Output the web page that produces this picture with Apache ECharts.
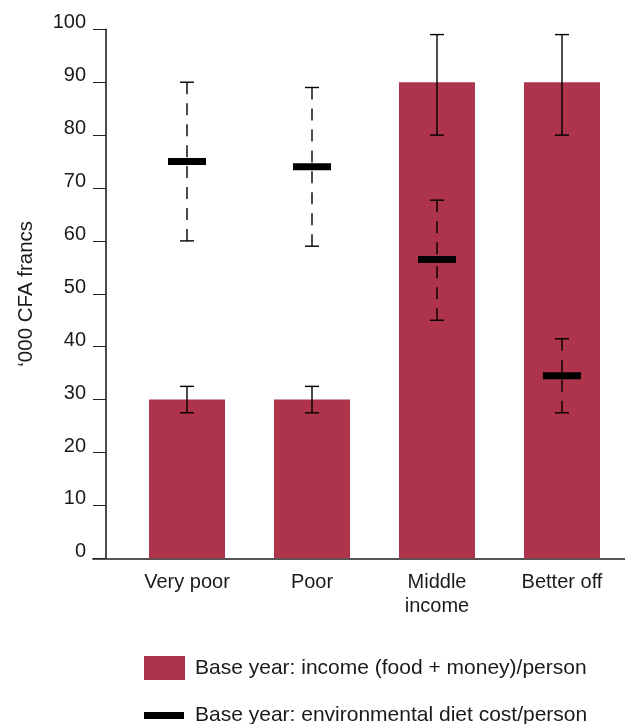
<!DOCTYPE html>
<html>
<head>
<meta charset="utf-8">
<script src="https://cdn.jsdelivr.net/npm/echarts@6/dist/echarts.min.js"></script>
<style>
  html, body { margin: 0; padding: 0; background: #ffffff; }
  #chart { width: 625px; height: 724px; }
</style>
</head>
<body>
<div id="chart"></div>
<script>
// Household groups along the x axis
const categories = ['Very poor', 'Poor', 'Middle\nincome', 'Better off'];

// Base-year income (food + money) per person, '000 CFA francs, with range
const incomeValues = [30, 30, 90, 90];
const incomeLow = [27.5, 27.5, 80, 80];
const incomeHigh = [32.5, 32.5, 99, 99];

// Base-year environmental diet cost per person, with range
const dietCost = [75, 74, 56.5, 34.5];
const dietLow = [60, 59, 45, 27.5];
const dietHigh = [90, 89, 67.7, 41.5];

// Y axis ticks
const yMin = 0, yMax = 100, yStep = 10;

const incomeName = 'Base year: income (food + money)/person';
const dietName = 'Base year: environmental diet cost/person';

const FONT = "'Liberation Sans', Arial, Helvetica, sans-serif";
const TEXT = '#1a1a1a';
const BAR = '#ad344a';

const incomeRange = categories.map((c, i) => [i, incomeLow[i], incomeHigh[i]]);
const dietData = categories.map((c, i) => [i, dietCost[i], dietLow[i], dietHigh[i]]);

const CAP = 7;

function capsAndStem(api, i, lo, hi) {
  const pHi = api.coord([i, hi]);
  const pLo = api.coord([i, lo]);
  const stroke = { stroke: '#000', lineWidth: 1.4 };
  const parts = [
    { type: 'line', shape: { x1: pHi[0] - CAP, y1: pHi[1], x2: pHi[0] + CAP, y2: pHi[1] }, style: stroke },
    { type: 'line', shape: { x1: pLo[0] - CAP, y1: pLo[1], x2: pLo[0] + CAP, y2: pLo[1] }, style: stroke }
  ];
  return { pHi, pLo, stroke, parts };
}

function renderIncomeRange(params, api) {
  const i = api.value(0);
  const r = capsAndStem(api, i, api.value(1), api.value(2));
  r.parts.push({ type: 'line', shape: { x1: r.pHi[0], y1: r.pHi[1], x2: r.pLo[0], y2: r.pLo[1] }, style: r.stroke });
  return { type: 'group', children: r.parts };
}

function renderDiet(params, api) {
  const i = api.value(0);
  const mid = api.coord([i, api.value(1)]);
  const r = capsAndStem(api, i, api.value(2), api.value(3));
  const dash = { stroke: '#000', lineWidth: 1.4, lineDash: [12, 9] };
  // dashed stems run from each cap toward the marker
  r.parts.push({ type: 'line', shape: { x1: r.pHi[0], y1: r.pHi[1], x2: mid[0], y2: mid[1] }, style: dash });
  r.parts.push({ type: 'line', shape: { x1: r.pLo[0], y1: r.pLo[1], x2: mid[0], y2: mid[1] }, style: dash });
  r.parts.push({ type: 'rect', shape: { x: mid[0] - 19, y: mid[1] - 3.5, width: 38, height: 7 }, style: { fill: '#000' } });
  return { type: 'group', children: r.parts };
}

const chart = echarts.init(document.getElementById('chart'), null, { renderer: 'canvas' });

chart.setOption({
  animation: false,
  backgroundColor: '#ffffff',
  textStyle: { fontFamily: FONT, color: TEXT },
  grid: [
    { left: 124.5, right: 0.5, top: 29.3, bottom: 165.7 },
    { left: 93, right: 0, top: 29.3, bottom: 165.7 }
  ],
  legend: [
    {
      left: 139, top: 651,
      itemWidth: 41, itemHeight: 24,
      icon: 'rect',
      selectedMode: false,
      textStyle: { fontFamily: FONT, fontSize: 21, color: TEXT, padding: [0, 0, 0, 5] },
      data: [{ name: incomeName, itemStyle: { color: BAR } }]
    },
    {
      left: 139, top: 700,
      itemWidth: 40, itemHeight: 7,
      icon: 'rect',
      selectedMode: false,
      textStyle: { fontFamily: FONT, fontSize: 21, color: TEXT, padding: [0, 0, 0, 6] },
      data: [{ name: dietName, itemStyle: { color: '#000' } }]
    }
  ],
  xAxis: [
    {
      type: 'category',
      gridIndex: 0,
      data: categories,
      axisLine: { show: false },
      axisTick: { show: false },
      axisLabel: { fontFamily: FONT, fontSize: 20, color: TEXT, lineHeight: 24, margin: 12 }
    },
    {
      type: 'value',
      gridIndex: 1,
      min: 0, max: 1,
      axisLine: { show: true, lineStyle: { color: '#555', width: 2 } },
      axisTick: { show: false },
      axisLabel: { show: false },
      splitLine: { show: false }
    }
  ],
  yAxis: [
    {
      type: 'value',
      gridIndex: 0,
      min: yMin, max: yMax, interval: yStep,
      offset: 18.5,
      name: "‘000 CFA francs",
      nameLocation: 'middle',
      nameGap: 69,
      nameTextStyle: { fontFamily: FONT, fontSize: 20.5, color: TEXT },
      axisLine: { show: true, lineStyle: { color: '#111', width: 1.5 } },
      axisTick: { show: true, length: 13, lineStyle: { color: '#222', width: 1 } },
      axisLabel: { fontFamily: FONT, fontSize: 20, color: TEXT, margin: 20, verticalAlign: 'bottom', lineHeight: 13 },
      splitLine: { show: false }
    },
    {
      type: 'value',
      gridIndex: 1,
      min: yMin, max: yMax,
      show: false
    }
  ],
  series: [
    {
      name: incomeName,
      type: 'bar',
      xAxisIndex: 0, yAxisIndex: 0,
      data: incomeValues,
      barWidth: 76,
      itemStyle: { color: BAR },
      z: 2
    },
    {
      name: incomeName + ' range',
      type: 'custom',
      xAxisIndex: 0, yAxisIndex: 0,
      data: incomeRange,
      encode: { x: 0, y: [1, 2] },
      renderItem: renderIncomeRange,
      z: 3
    },
    {
      name: dietName,
      type: 'custom',
      xAxisIndex: 0, yAxisIndex: 0,
      data: dietData,
      encode: { x: 0, y: [1, 2, 3] },
      renderItem: renderDiet,
      itemStyle: { color: '#000' },
      z: 4
    }
  ]
});
</script>
</body>
</html>
